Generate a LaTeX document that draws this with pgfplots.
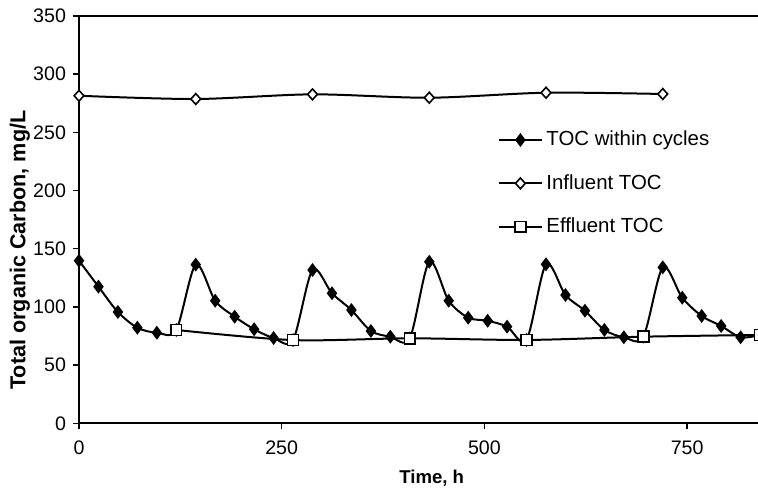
\documentclass[border=0pt]{standalone}
\usepackage{pgfplots}
\pgfplotsset{compat=1.18}
\usepackage{fontspec}
\setmainfont{Liberation Sans}
\begin{document}
\begin{tikzpicture}
\begin{axis}[
  scale only axis,
  width=352.7pt, height=203.7pt,
  xmin=0, xmax=870, ymin=0, ymax=350,
  xtick={0,250,500,750}, ytick={0,50,...,350},
  axis x line=box, axis y line=left,
  axis line style={-, line width=0.9pt, black},
  xtick pos=bottom, ytick pos=left,
  tick align=outside, major tick length=3pt,
  tick style={line width=0.7pt, black},
  /pgf/number format/assume math mode=true,
  ticklabel style={font=\fontsize{9.8}{11}\selectfont},
  xticklabel style={yshift=-2pt},
  xlabel={Time, h}, ylabel={Total organic Carbon, mg/L},
  xlabel style={font=\fontsize{9.3}{11}\selectfont\bfseries, at={(axis description cs:0.5,-0.134)}, anchor=center},
  ylabel style={font=\fontsize{10.8}{12}\selectfont\bfseries, at={(axis description cs:-0.084,0.425)}, anchor=center},
  clip=false,
  legend cell align=left,
  legend style={draw=none, fill=none, at={(axis description cs:0.594,0.728)}, anchor=north west,
    font=\fontsize{10.2}{12}\selectfont, row sep=8.8pt, inner sep=0pt,
    nodes={inner sep=2pt}},
  legend image code/.code={\draw[#1, mark repeat=2, mark phase=2] plot coordinates {(0pt,0pt) (10.5pt,0pt) (21pt,0pt)};},
]
\addplot[black, line width=1pt, smooth, tension=0.5, mark=diamond*, mark size=3pt, mark options={solid, fill=black, line width=0.6pt}]
coordinates {
(0,139.7) (24,117.4) (48,95.6) (72,82.1) (96,77.8) (120,80.2)
(144,136.3) (168,105.3) (192,91.6) (216,80.8) (240,73.3) (264,71.5)
(288,131.7) (312,111.7) (336,97.3) (360,79.3) (384,74.4) (408,73.0)
(432,138.8) (456,105.3) (480,90.7) (504,88.1) (528,83.0) (552,71.6)
(576,136.6) (600,110.2) (624,96.7) (648,80.2) (672,73.9) (696,74.4)
(720,134.0) (744,107.9) (768,92.2) (792,83.6) (816,73.9) (840,75.9)
};
\addlegendentry{TOC within cycles}
\addplot[black, line width=1pt, smooth, tension=0.5, mark=diamond*, mark size=2.7pt, mark options={solid, fill=white, line width=0.8pt, xscale=1.2}]
coordinates {(0,281.4) (144,278.6) (288,282.6) (432,279.7) (576,284.0) (720,282.9)};
\addlegendentry{Influent TOC}
\addplot[black, line width=1pt, smooth, tension=0.5, mark=square*, mark size=2.7pt, mark options={solid, fill=white, line width=0.8pt}]
coordinates {(120,80.2) (264,71.5) (408,73.0) (552,71.6) (696,74.4) (840,75.9)};
\addlegendentry{Effluent TOC}
\end{axis}
\pgfresetboundingbox
\path[use as bounding box] ([xshift=-39.5pt,yshift=-32.85pt]current axis.south west) rectangle ([xshift=339.5pt,yshift=7.95pt]current axis.north west);
\end{tikzpicture}
\end{document}
